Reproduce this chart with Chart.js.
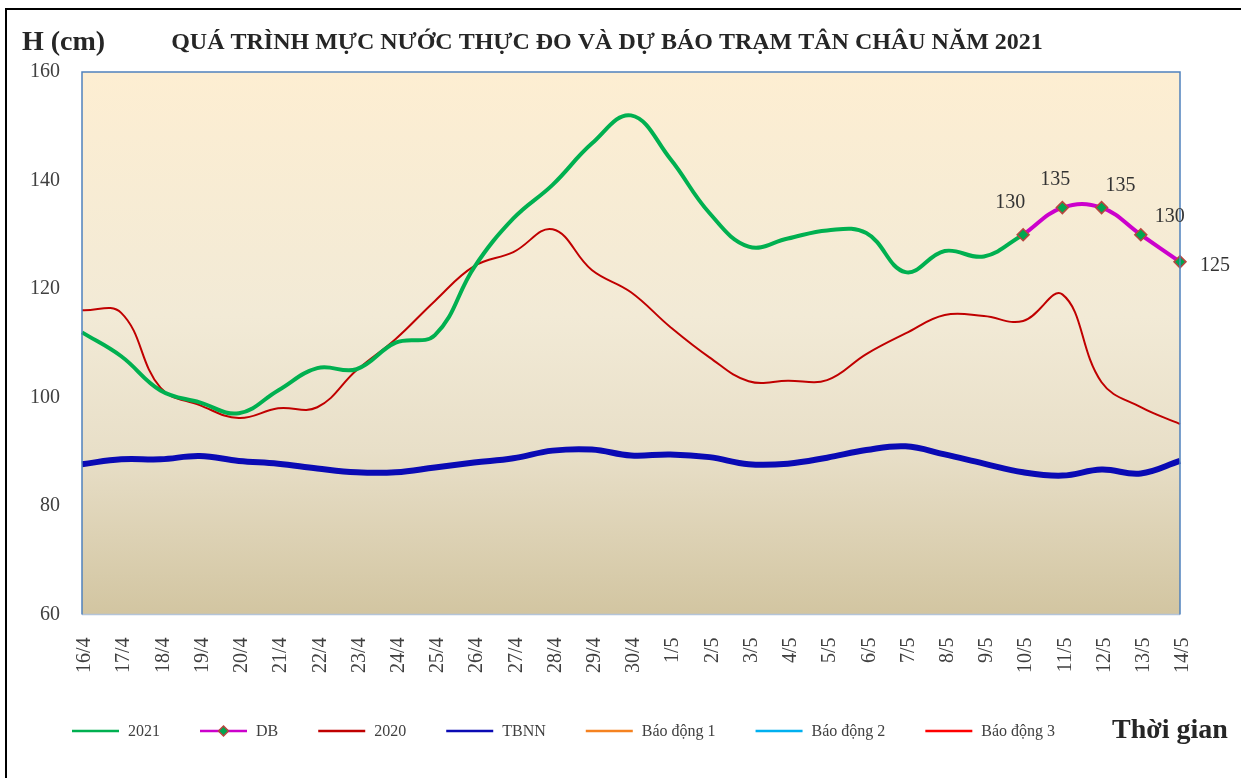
<!DOCTYPE html>
<html>
<head>
<meta charset="utf-8">
<script src="https://cdn.jsdelivr.net/npm/chart.js@4.4.1/dist/chart.umd.min.js"></script>
<style>
    body { margin: 0; background: #ffffff; }
    canvas { display: block; }
</style>
</head>
<body>
<canvas id="waterChart" width="1241" height="778"></canvas>
<script>
// dates on the x axis
const labels = ['16/4', '17/4', '18/4', '19/4', '20/4', '21/4', '22/4', '23/4', '24/4', '25/4',
    '26/4', '27/4', '28/4', '29/4', '30/4', '1/5', '2/5', '3/5', '4/5', '5/5',
    '6/5', '7/5', '8/5', '9/5', '10/5', '11/5', '12/5', '13/5', '14/5'];

// water level (cm)
const y2021 = [112, 107.6, 101.3, 99.1, 97.1, 101.3, 105.4, 105.2, 110.1, 111.5,
    124, 133, 139.2, 146.8, 152, 144, 134, 127.8, 129.3, 130.8,
    130.3, 123.1, 127, 126, 130, null, null, null, null];
const forecast = [null, null, null, null, null, null, null, null, null, null,
    null, null, null, null, null, null, null, null, null, null,
    null, null, null, null, 130, 135, 135, 130, 125];
const y2020 = [116.1, 115.6, 101.8, 98.6, 96.2, 98, 98.2, 105, 110.8, 117.8,
    124.2, 126.8, 131, 123.5, 119.4, 113, 107.4, 103, 103.1, 103.2,
    108, 111.8, 115.2, 115, 114.1, 119, 102.8, 98.2, 95.1];
const tbnn = [87.7, 88.6, 88.6, 89.2, 88.3, 87.8, 86.9, 86.2, 86.2, 87.1,
    88, 88.8, 90.2, 90.4, 89.3, 89.5, 89, 87.7, 87.8, 88.9,
    90.3, 91, 89.5, 87.8, 86.2, 85.6, 86.7, 86, 88.3];
const alarm1 = [];
const alarm2 = [];
const alarm3 = [];

const yTicks = [60, 80, 100, 120, 140, 160];

const TITLE = 'QUÁ TRÌNH MỰC NƯỚC THỰC ĐO VÀ DỰ BÁO TRẠM TÂN CHÂU NĂM 2021';

// where each forecast label sits relative to its marker
const labelShift = [[-13, -32], [-7, -28], [19, -22], [29, -18], [35, 4]];

const FONT = "'Liberation Serif', 'Times New Roman', serif";
const TEXT = '#404040';

// plot area background + frame
const plotBack = {
    id: 'plotBack',
    beforeDraw(chart) {
        let a = chart.chartArea, ctx = chart.ctx;
        let g = ctx.createLinearGradient(0, a.top, 0, a.bottom);
        g.addColorStop(0, '#fdeed2');
        g.addColorStop(0.45, '#f2ead6');
        g.addColorStop(0.7, '#e8dfc8');
        g.addColorStop(1, '#d2c5a1');
        ctx.save();
        ctx.fillStyle = g;
        ctx.fillRect(a.left, a.top, a.right - a.left, a.bottom - a.top);
        ctx.restore();
    },
    afterDatasetsDraw(chart) {
        let a = chart.chartArea, ctx = chart.ctx;
        ctx.save();
        ctx.lineWidth = 1.5;
        ctx.strokeStyle = '#b4c4d8';
        ctx.beginPath();
        ctx.moveTo(a.left, a.bottom);
        ctx.lineTo(a.right, a.bottom);
        ctx.stroke();
        ctx.strokeStyle = '#4f81bd';
        ctx.beginPath();
        ctx.moveTo(a.left, a.bottom);
        ctx.lineTo(a.left, a.top);
        ctx.lineTo(a.right, a.top);
        ctx.lineTo(a.right, a.bottom);
        ctx.stroke();
        ctx.restore();
    }
};

// value labels on the forecast points
const dbLabels = {
    id: 'dbLabels',
    afterDraw(chart) {
        let ctx = chart.ctx;
        let meta = chart.getDatasetMeta(1);
        let k = 0;
        ctx.save();
        ctx.font = '20px ' + FONT;
        ctx.fillStyle = '#333333';
        ctx.textAlign = 'center';
        ctx.textBaseline = 'middle';
        meta.data.forEach((pt, i) => {
            let v = forecast[i];
            if (v == null) return;
            let s = labelShift[k++];
            ctx.fillText(String(v), pt.x + s[0], pt.y + s[1]);
        });
        ctx.restore();
    }
};

// title, legend row, axis captions and outer frame
const extras = {
    id: 'extras',
    afterDraw(chart) {
        let ctx = chart.ctx;
        ctx.save();
        // outer frame
        ctx.strokeStyle = '#000000';
        ctx.lineWidth = 2;
        ctx.strokeRect(6, 9, 1250, 790);

        ctx.fillStyle = '#262626';
        ctx.textBaseline = 'middle';
        ctx.font = 'bold 24px ' + FONT;
        ctx.textAlign = 'center';
        ctx.fillText(TITLE, 607, 43);

        ctx.font = 'bold 28px ' + FONT;
        ctx.textAlign = 'left';
        ctx.fillText('H (cm)', 22, 43);
        ctx.fillText('Thời gian', 1112, 731);

        // legend
        ctx.font = '16px ' + FONT;
        let x = 72, y = 731;
        chart.data.datasets.forEach(ds => {
            ctx.strokeStyle = ds.borderColor;
            ctx.lineWidth = 2.5;
            ctx.beginPath();
            ctx.moveTo(x, y);
            ctx.lineTo(x + 47, y);
            ctx.stroke();
            if (ds.pointRadius > 0) {
                ctx.fillStyle = ds.pointBackgroundColor;
                ctx.strokeStyle = ds.pointBorderColor;
                ctx.lineWidth = 1.5;
                ctx.beginPath();
                ctx.moveTo(x + 23.5, y - 5);
                ctx.lineTo(x + 28.5, y);
                ctx.lineTo(x + 23.5, y + 5);
                ctx.lineTo(x + 18.5, y);
                ctx.closePath();
                ctx.fill();
                ctx.stroke();
            }
            ctx.fillStyle = TEXT;
            ctx.fillText(ds.label, x + 56, y + 1);
            x += 56 + ctx.measureText(ds.label).width + 40;
        });
        ctx.restore();
    }
};

function lineSet(label, data, color, width) {
    return {
        label: label,
        data: data,
        borderColor: color,
        backgroundColor: color,
        borderWidth: width,
        pointRadius: 0,
        pointHoverRadius: 0,
        tension: 0.4,
        fill: false
    };
}

let dbSet = lineSet('DB', forecast, '#cc00cc', 4);
dbSet.pointRadius = 6;
dbSet.pointStyle = 'rectRot';
dbSet.pointBackgroundColor = '#00a650';
dbSet.pointBorderColor = '#b8453f';
dbSet.pointBorderWidth = 1.5;
dbSet.clip = false;

const datasets = [
    lineSet('2021', y2021, '#00b050', 4),
    dbSet,
    lineSet('2020', y2020, '#c00000', 2),
    lineSet('TBNN', tbnn, '#0a0ab4', 6),
    lineSet('Báo động 1', alarm1, '#f58220', 2),
    lineSet('Báo động 2', alarm2, '#00b0f0', 2),
    lineSet('Báo động 3', alarm3, '#ff0000', 2)
];
// the green 2021 line sits above the others
datasets[0].order = 1;
datasets[1].order = 0;
datasets[2].order = 2;
datasets[3].order = 3;

new Chart(document.getElementById('waterChart'), {
    type: 'line',
    data: { labels: labels, datasets: datasets },
    options: {
        responsive: false,
        animation: false,
        events: [],
        layout: { padding: { left: 30, right: 61, top: 72, bottom: 82 } },
        plugins: {
            legend: { display: false },
            tooltip: { enabled: false },
            title: { display: false }
        },
        scales: {
            x: {
                offset: false,
                grid: { display: false, drawTicks: false },
                border: { display: false },
                ticks: {
                    color: TEXT,
                    font: { family: FONT, size: 20 },
                    minRotation: 90,
                    maxRotation: 90,
                    autoSkip: false,
                    labelOffset: 3,
                    padding: 23
                }
            },
            y: {
                min: yTicks[0],
                max: yTicks[yTicks.length - 1],
                afterBuildTicks: axis => { axis.ticks = yTicks.map(v => ({ value: v })); },
                afterFit: axis => { axis.width = 52; },
                grid: { display: false, drawTicks: false },
                border: { display: false },
                ticks: {
                    color: TEXT,
                    font: { family: FONT, size: 20 },
                    padding: 22
                }
            }
        }
    },
    plugins: [plotBack, dbLabels, extras]
});
</script>
</body>
</html>
